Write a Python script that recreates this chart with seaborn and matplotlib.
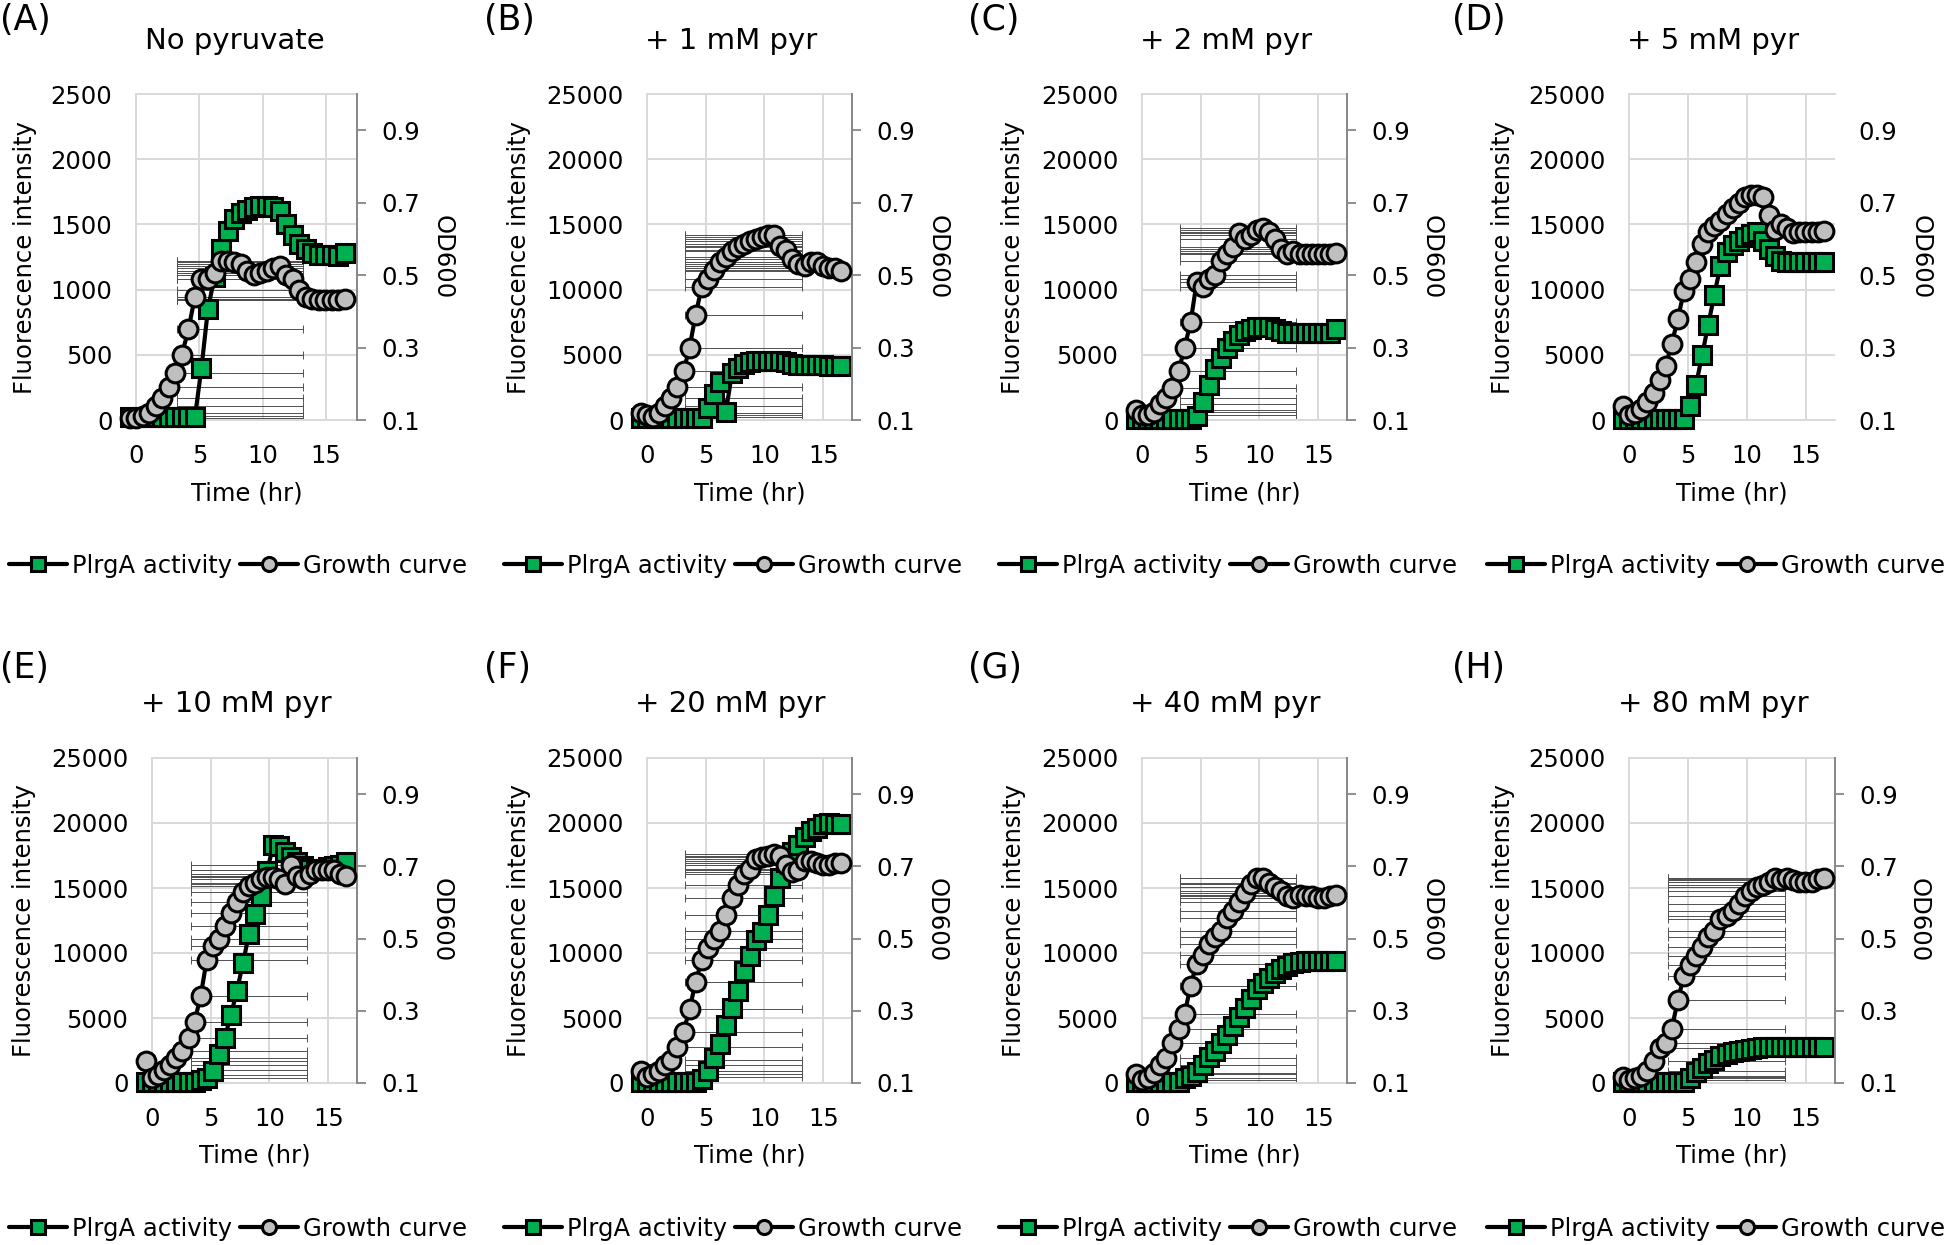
import numpy as np
import matplotlib
matplotlib.use('Agg')
import matplotlib.pyplot as plt
import seaborn as sns
from matplotlib.lines import Line2D

# ---- data ----
time_hr = [-0.5, 0.02, 0.53, 1.05, 1.56, 2.08, 2.59, 3.11, 3.62, 4.14, 4.65, 5.17,
           5.68, 6.2, 6.71, 7.23, 7.74, 8.26, 8.77, 9.29, 9.8, 10.32, 10.83, 11.35,
           11.86, 12.38, 12.89, 13.41, 13.92, 14.44, 14.95, 15.47, 15.98, 16.5]

plrga_A = [20, 20, 20, 20, 20, 20, 20, 20, 20, 20, 20, 400, 850, 1100, 1310, 1450, 1540,
           1590, 1610, 1630, 1640, 1640, 1630, 1600, 1500, 1420, 1350, 1310, 1280, 1265,
           1265, 1265, 1260, 1280]
growth_A = [0.105, 0.105, 0.11, 0.12, 0.14, 0.16, 0.19, 0.23, 0.28, 0.35, 0.44, 0.49, 0.49,
            0.505, 0.54, 0.54, 0.535, 0.53, 0.51, 0.50, 0.505, 0.51, 0.52, 0.525, 0.50, 0.49,
            0.46, 0.44, 0.435, 0.43, 0.43, 0.43, 0.43, 0.435]

plrga_B = [150, 150, 150, 150, 150, 150, 150, 150, 150, 150, 150, 900, 2000, 2900, 600, 3600,
           4000, 4300, 4450, 4500, 4550, 4550, 4550, 4500, 4450, 4300, 4250, 4200, 4200, 4200,
           4200, 4150, 4150, 4150]
growth_B = [0.118, 0.113, 0.107, 0.118, 0.14, 0.16, 0.19, 0.234, 0.30, 0.39, 0.467, 0.49, 0.515,
            0.535, 0.55, 0.567, 0.578, 0.586, 0.594, 0.60, 0.605, 0.61, 0.612, 0.58, 0.57, 0.545,
            0.53, 0.525, 0.535, 0.535, 0.525, 0.52, 0.52, 0.51]

plrga_C = [50, 50, 50, 50, 50, 50, 50, 50, 50, 50, 300, 1400, 2700, 3900, 4750, 5500, 6050,
           6500, 6800, 6950, 7100, 7100, 7100, 7000, 6800, 6700, 6700, 6700, 6700, 6700, 6700,
           6700, 6700, 6950]
growth_C = [0.128, 0.113, 0.113, 0.123, 0.144, 0.16, 0.187, 0.234, 0.30, 0.37, 0.48, 0.467, 0.49,
            0.50, 0.54, 0.557, 0.578, 0.615, 0.60, 0.61, 0.625, 0.63, 0.62, 0.60, 0.573, 0.557,
            0.567, 0.557, 0.557, 0.557, 0.557, 0.557, 0.557, 0.56]

plrga_D = [100, 100, 100, 100, 100, 100, 100, 100, 100, 100, 100, 1100, 2700, 5000, 7300, 9600,
           11800, 12900, 13400, 13700, 14000, 14300, 14400, 13700, 13100, 12600, 12200, 12100,
           12100, 12100, 12100, 12100, 12100, 12100]
growth_D = [0.14, 0.113, 0.118, 0.13, 0.15, 0.175, 0.21, 0.25, 0.31, 0.38, 0.455, 0.49, 0.535,
            0.585, 0.62, 0.635, 0.65, 0.67, 0.685, 0.70, 0.715, 0.72, 0.72, 0.715, 0.665, 0.625,
            0.64, 0.63, 0.615, 0.62, 0.62, 0.62, 0.62, 0.622]

plrga_E = [100, 100, 100, 100, 100, 100, 100, 100, 100, 200, 400, 950, 2200, 3500, 5200, 7100,
           9200, 11500, 13000, 14400, 16300, 18300, 18200, 17800, 17400, 17000, 16700, 16500,
           16400, 16500, 16600, 16700, 16800, 17000]
growth_E = [0.16, 0.113, 0.122, 0.135, 0.15, 0.17, 0.19, 0.225, 0.27, 0.34, 0.44, 0.48, 0.50,
            0.535, 0.57, 0.60, 0.63, 0.645, 0.655, 0.665, 0.67, 0.67, 0.665, 0.65, 0.705, 0.674,
            0.665, 0.68, 0.69, 0.69, 0.69, 0.69, 0.68, 0.674]

plrga_F = [80, 80, 80, 80, 80, 80, 80, 80, 80, 80, 300, 900, 1900, 3000, 4500, 5800, 7100,
           8600, 9800, 11000, 11600, 12900, 14400, 15800, 17000, 17800, 18300, 18900, 19400,
           19600, 19900, 20000, 19900, 19900]
growth_F = [0.134, 0.118, 0.124, 0.134, 0.149, 0.165, 0.20, 0.242, 0.304, 0.38, 0.44, 0.473,
            0.50, 0.52, 0.566, 0.612, 0.648, 0.679, 0.694, 0.72, 0.725, 0.73, 0.735, 0.73, 0.705,
            0.684, 0.69, 0.715, 0.715, 0.71, 0.705, 0.705, 0.71, 0.71]

plrga_G = [100, 100, 100, 100, 100, 100, 100, 100, 350, 550, 850, 1400, 2000, 2500, 3100, 3700,
           4400, 5100, 5800, 6500, 7200, 7700, 8100, 8450, 8800, 9000, 9200, 9300, 9350, 9350,
           9350, 9350, 9350, 9350]
growth_G = [0.124, 0.108, 0.113, 0.129, 0.149, 0.17, 0.21, 0.25, 0.29, 0.37, 0.43, 0.455, 0.484,
            0.504, 0.52, 0.556, 0.576, 0.60, 0.627, 0.65, 0.667, 0.669, 0.653, 0.643, 0.633,
            0.617, 0.612, 0.622, 0.617, 0.617, 0.612, 0.612, 0.617, 0.622]

plrga_H = [100, 100, 100, 100, 100, 100, 100, 100, 100, 100, 100, 400, 850, 1150, 1550, 1800,
           2050, 2250, 2350, 2450, 2550, 2650, 2700, 2750, 2750, 2750, 2750, 2750, 2750, 2750,
           2750, 2750, 2750, 2750]
growth_H = [0.118, 0.108, 0.113, 0.12, 0.134, 0.16, 0.196, 0.211, 0.25, 0.33, 0.396, 0.427,
            0.453, 0.478, 0.504, 0.52, 0.553, 0.562, 0.575, 0.597, 0.617, 0.633, 0.643, 0.648,
            0.658, 0.669, 0.663, 0.669, 0.663, 0.658, 0.658, 0.658, 0.665, 0.669]

plrga_all = [plrga_A, plrga_B, plrga_C, plrga_D, plrga_E, plrga_F, plrga_G, plrga_H]
growth_all = [growth_A, growth_B, growth_C, growth_D, growth_E, growth_F, growth_G, growth_H]

panel_tags = ['(A)', '(B)', '(C)', '(D)', '(E)', '(F)', '(G)', '(H)']
panel_titles = ['No pyruvate', '+ 1 mM pyr', '+ 2 mM pyr', '+ 5 mM pyr',
                '+ 10 mM pyr', '+ 20 mM pyr', '+ 40 mM pyr', '+ 80 mM pyr']
fluor_max = [2500, 25000, 25000, 25000, 25000, 25000, 25000, 25000]
# x-error bar span (hr) drawn at each OD point; panel D has none
errbar_span = [(3.25, 13.2), (3.25, 13.2), (3.2, 13.1), None,
               (3.3, 13.2), (3.2, 13.2), (3.27, 13.15), (3.3, 13.2)]

# ---- style ----
sns.set_style('white')
plt.rcParams['font.family'] = ['DejaVu Sans']
plt.rcParams['text.color'] = 'black'
plt.rcParams['xtick.color'] = 'black'
plt.rcParams['ytick.color'] = 'black'

GREEN = '#00b050'
GREY = '#bfbfbf'
GRID = '#d9d9d9'
AXGREY = '#868686'
FS = 17.5

W, H = 1946, 1245
fig = plt.figure(figsize=(W / 100, H / 100), dpi=100)

# layout in pixels
ax_x = [(136, 357), (647, 852), (1142, 1347), (1629, 1835),
        (152, 357), (647, 852), (1142, 1347), (1629, 1835)]
row_y = [(94, 420), (758, 1083)]
tag_x = [0, 484, 968, 1452, 0, 484, 968, 1452]
tag_y = [20, 668]
title_x = [235, 731, 1226, 1713, 236, 730, 1225, 1713]
title_y = [41, 704]
xlab_y = [494, 1156]
ylab_x = [25, 519, 1013, 1503, 24, 519, 1014, 1503]
od_x = [443, 938, 1432, 1921, 442, 937, 1432, 1919]
leg_x = [238, 733, 1228, 1716, 238, 733, 1228, 1716]
leg_y = [566, 1229]

sq_style = dict(color='black', lw=3.0, marker='s', markersize=13,
                markerfacecolor=GREEN, markeredgecolor='black', markeredgewidth=2.2)
ci_style = dict(color='black', lw=3.0, marker='o', markersize=13.5,
                markerfacecolor=GREY, markeredgecolor='black', markeredgewidth=2.2)


def fx(px):
    return px / W


def fy(py):
    return 1 - py / H


for i in range(8):
    row = i // 4
    l, r = ax_x[i]
    t, b = row_y[row]
    ax = fig.add_axes([fx(l), fy(b), (r - l) / W, (b - t) / H])
    ax2 = ax.twinx()

    ymax = fluor_max[i]
    ax.set_xlim(0, 17.45)
    ax.set_ylim(0, ymax)
    ax2.set_ylim(0.1, 1.0)
    ax.set_xticks([0, 5, 10, 15])
    ax.set_yticks(np.linspace(0, ymax, 6))
    ax2.set_yticks([0.1, 0.3, 0.5, 0.7, 0.9])
    ax.grid(True, color=GRID, lw=1.4)
    ax.set_axisbelow(True)

    # horizontal error bars (in OD units) behind the fluorescence series
    if errbar_span[i] is not None:
        x0, x1 = errbar_span[i]
        g = growth_all[i]
        ax.hlines(g, x0, x1, colors='#505050', lw=0.7, transform=ax2.transData, zorder=1.5)
        ax.plot([x0] * len(g), g, ls='none', marker='|', ms=6, mew=0.7, color='#505050',
                transform=ax2.transData, zorder=1.5)
        ax.plot([x1] * len(g), g, ls='none', marker='|', ms=6, mew=0.7, color='#505050',
                transform=ax2.transData, zorder=1.5)

    sns.lineplot(x=time_hr, y=plrga_all[i], ax=ax, clip_on=False, zorder=3, **sq_style)
    sns.lineplot(x=time_hr, y=growth_all[i], ax=ax2, clip_on=False, zorder=3, **ci_style)
    ax.set_xlabel('')
    ax.set_ylabel('')
    ax2.set_ylabel('')

    ax.tick_params(axis='both', length=0, labelsize=FS)
    ax.tick_params(axis='y', pad=17)
    ax.tick_params(axis='x', pad=17)
    for s in ['left', 'top', 'bottom']:
        ax.spines[s].set_color(GRID)
        ax.spines[s].set_linewidth(1.4)
        ax2.spines[s].set_visible(False)
    ax.spines['right'].set_visible(False)
    if i == 3:
        ax2.spines['right'].set_visible(False)
        ax2.tick_params(axis='y', length=0, pad=17, labelsize=FS)
    else:
        ax2.spines['right'].set_color(AXGREY)
        ax2.spines['right'].set_linewidth(1.4)
        ax2.tick_params(axis='y', length=6.5, width=1.3, color=AXGREY, pad=11, labelsize=FS)

    # texts
    fig.text(fx(tag_x[i]), fy(tag_y[row]), panel_tags[i], fontsize=25, ha='left', va='center')
    fig.text(fx(title_x[i]), fy(title_y[row]), panel_titles[i], fontsize=21,
             ha='center', va='center')
    fig.text(fx((l + r) / 2), fy(xlab_y[row]), 'Time (hr)', fontsize=FS,
             ha='center', va='center')
    fig.text(fx(ylab_x[i]), fy((t + b) / 2), 'Fluorescence intensity', fontsize=FS,
             rotation=90, ha='center', va='center')
    fig.text(fx(od_x[i]), fy((t + b) / 2), 'OD600', fontsize=FS,
             rotation=270, ha='center', va='center')

    handles = [Line2D([], [], **sq_style), Line2D([], [], **ci_style)]
    fig.legend(handles=handles, labels=['PlrgA activity', 'Growth curve'], loc='center',
               bbox_to_anchor=(fx(leg_x[i]), fy(leg_y[row])), ncol=2, frameon=False,
               fontsize=FS, handlelength=2.4, handletextpad=0.2, columnspacing=0.3,
               markerscale=0.75, borderpad=0.2)

fig.savefig('out.png', dpi=100)
